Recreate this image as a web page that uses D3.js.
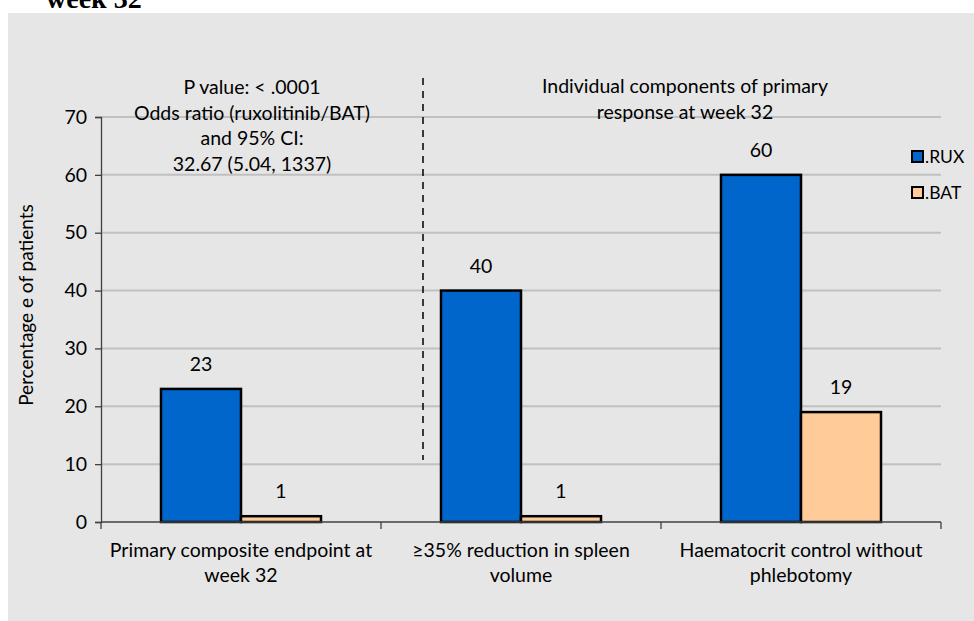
<!DOCTYPE html>
<html>
<head>
<meta charset="utf-8">
<script src="https://cdn.jsdelivr.net/npm/d3@7"></script>
<style>
  body { margin: 0; background: #fff; }
  text { font-family: Lato, "Open Sans", sans-serif; fill: #000; }
</style>
</head>
<body>
<div id="chart"></div>
<script>
// data
const categories = [
  ["Primary composite endpoint at", "week 32"],
  ["\u226535% reduction in spleen", "volume"],
  ["Haematocrit control without", "phlebotomy"]
];
const seriesNames = [".RUX", ".BAT"];
const ruxValues = [23, 40, 60];
const batValues = [1, 1, 19];
const yTicks = [0, 10, 20, 30, 40, 50, 60, 70];
const leftNote = ["P value: < .0001", "Odds ratio (ruxolitinib/BAT)", "and 95% CI:", "32.67 (5.04, 1337)"];
const rightNote = ["Individual components of primary", "response at week 32"];
const colors = ["#0066cc", "#ffcc99"];

const width = 974, height = 621;
const margin = {top: 117, right: 33, bottom: 99, left: 101};
const fs = "19.5px";

const svg = d3.select("#chart").append("svg")
    .attr("width", width)
    .attr("height", height);

// title fragment cut off at top
svg.append("text")
    .attr("x", 46).attr("y", 8)
    .style("font-family", "'Liberation Serif', 'Times New Roman', serif")
    .style("font-weight", "bold")
    .style("font-size", "28px")
    .text("week 32");

// chart area background
svg.append("rect")
    .attr("x", 8).attr("y", 13)
    .attr("width", width - 8).attr("height", height - 13)
    .attr("fill", "#e6e6e6");

const keys = categories.map((d, i) => i);
const x0 = d3.scaleBand().domain(keys).range([margin.left, width - margin.right]).padding(0);
const x1 = d3.scaleBand().domain(seriesNames).range([0, x0.bandwidth()]).paddingInner(0).paddingOuter(0.75);
const y = d3.scaleLinear().domain([0, 70]).range([height - margin.bottom, margin.top]);

// gridlines
svg.append("g")
  .selectAll("line")
  .data(yTicks.filter(d => d > 0))
  .enter().append("line")
    .attr("x1", margin.left).attr("x2", width - margin.right)
    .attr("y1", d => y(d)).attr("y2", d => y(d))
    .attr("stroke", "#c0c0c0")
    .attr("stroke-width", 2);

// y axis
const yAxis = svg.append("g")
    .attr("transform", `translate(${margin.left},0)`)
    .call(d3.axisLeft(y).tickValues(yTicks).tickSize(6).tickPadding(8));
yAxis.select(".domain").attr("stroke", "#404040").attr("stroke-width", 1.3);
yAxis.selectAll(".tick line").attr("stroke", "#404040").attr("stroke-width", 1.3);
yAxis.selectAll(".tick text").style("font-size", fs).style("font-family", "Lato, sans-serif").attr("fill", "#000");

// bars
const series = [ruxValues, batValues];
const groups = svg.append("g").selectAll("g")
  .data(keys)
  .enter().append("g")
    .attr("transform", d => `translate(${x0(d)},0)`);

groups.selectAll("rect")
  .data(k => seriesNames.map((s, j) => ({s, j, v: series[j][k]})))
  .enter().append("rect")
    .attr("x", d => x1(d.s))
    .attr("y", d => y(d.v))
    .attr("width", x1.bandwidth())
    .attr("height", d => y(0) - y(d.v))
    .attr("fill", d => colors[d.j])
    .attr("stroke", "#000")
    .attr("stroke-width", 2.5);

groups.selectAll("text.val")
  .data(k => seriesNames.map((s, j) => ({s, j, v: series[j][k]})))
  .enter().append("text")
    .attr("class", "val")
    .attr("x", d => x1(d.s) + x1.bandwidth() / 2)
    .attr("y", d => y(d.v) - 18)
    .attr("text-anchor", "middle")
    .style("font-size", fs)
    .text(d => d.v);

// x axis (excel style: ticks on category boundaries)
const xAxis = svg.append("g");
xAxis.append("line")
    .attr("x1", margin.left).attr("x2", width - margin.right)
    .attr("y1", y(0)).attr("y2", y(0))
    .attr("stroke", "#404040").attr("stroke-width", 1.3);
xAxis.selectAll("line.tick")
  .data(keys.concat([keys.length]))
  .enter().append("line")
    .attr("class", "tick")
    .attr("x1", d => margin.left + d * x0.step())
    .attr("x2", d => margin.left + d * x0.step())
    .attr("y1", y(0)).attr("y2", y(0) + 7)
    .attr("stroke", "#404040").attr("stroke-width", 1.3);
xAxis.selectAll("text")
  .data(keys)
  .enter().append("text")
    .attr("x", d => x0(d) + x0.bandwidth() / 2)
    .attr("y", y(0) + 35)
    .attr("text-anchor", "middle")
    .style("font-size", fs)
    .selectAll("tspan")
    .data(d => categories[d])
    .enter().append("tspan")
      .attr("x", function() { return d3.select(this.parentNode).attr("x"); })
      .attr("dy", (d, i) => i === 0 ? 0 : 25)
      .text(d => d);

// y axis title
svg.append("text")
    .attr("transform", "translate(33,305) rotate(-90)")
    .attr("text-anchor", "middle")
    .style("font-size", "19px")
    .text("Percentage e of patients");

// annotations
svg.append("line")
    .attr("x1", 423).attr("x2", 423)
    .attr("y1", 78).attr("y2", 460)
    .attr("stroke", "#000")
    .attr("stroke-width", 1.5)
    .attr("stroke-dasharray", "7,6");

svg.append("g").selectAll("text")
  .data(leftNote)
  .enter().append("text")
    .attr("x", 252)
    .attr("y", (d, i) => 94 + i * 25.5)
    .attr("text-anchor", "middle")
    .style("font-size", fs)
    .text(d => d);

svg.append("g").selectAll("text")
  .data(rightNote)
  .enter().append("text")
    .attr("x", 685)
    .attr("y", (d, i) => 93 + i * 26)
    .attr("text-anchor", "middle")
    .style("font-size", fs)
    .text(d => d);

// legend
const legend = svg.append("g").selectAll("g")
  .data(seriesNames)
  .enter().append("g")
    .attr("transform", (d, i) => `translate(912,${151 + i * 36})`);
legend.append("rect")
    .attr("width", 11).attr("height", 11)
    .attr("fill", (d, i) => colors[i])
    .attr("stroke", "#000")
    .attr("stroke-width", 2);
legend.append("text")
    .attr("x", 13).attr("y", 12)
    .style("font-size", "17.5px")
    .text(d => d);
</script>
</body>
</html>
